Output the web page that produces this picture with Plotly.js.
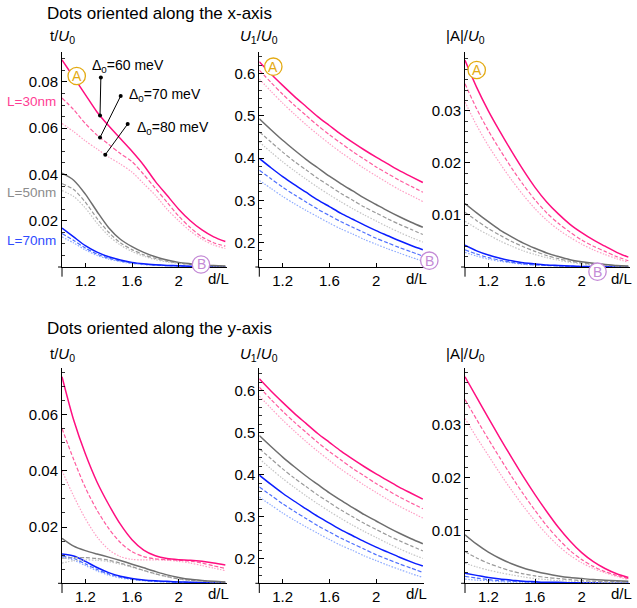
<!DOCTYPE html>
<html><head><meta charset="utf-8">
<script src="https://cdn.plot.ly/plotly-3.0.1.min.js"></script>
<style>html,body{margin:0;padding:0;background:#fff}#chart{width:637px;height:608px}</style>
</head><body><div id="chart"></div>
<script>
// d/L sample points
const dL = [1.0,1.1,1.2,1.3,1.4,1.5,1.6,1.7,1.8,1.9,2.0,2.1,2.2,2.3,2.4];

// ---- Dots along x-axis: t/U0 ----
const tX_30_60 = [0.0895,0.082,0.0745,0.067,0.061,0.0555,0.050,0.044,0.037,0.031,0.025,0.020,0.016,0.013,0.011];
const tX_30_70 = [0.073,0.068,0.062,0.057,0.053,0.049,0.0455,0.040,0.034,0.028,0.022,0.017,0.013,0.0105,0.009];
const tX_30_80 = [0.062,0.0585,0.0545,0.051,0.0475,0.0445,0.041,0.036,0.031,0.025,0.020,0.0155,0.012,0.0095,0.008];
const tX_50_60 = [0.0405,0.0375,0.0315,0.024,0.017,0.012,0.0088,0.0063,0.0044,0.003,0.002,0.0014,0.0009,0.0006,0.0004];
const tX_50_70 = [0.036,0.0335,0.028,0.021,0.015,0.0105,0.0075,0.0053,0.0037,0.0025,0.0017,0.0011,0.0007,0.0005,0.0003];
const tX_50_80 = [0.033,0.0305,0.0255,0.019,0.0135,0.0095,0.0067,0.0047,0.0032,0.0022,0.0015,0.001,0.0006,0.0004,0.0003];
const tX_70_60 = [0.0168,0.013,0.0092,0.0064,0.0044,0.003,0.002,0.0014,0.001,0.0007,0.0005,0.0003,0.0002,0.0001,0.0001];
const tX_70_70 = [0.0145,0.0115,0.0082,0.0056,0.0038,0.0026,0.0017,0.0012,0.0008,0.0006,0.0004,0.0003,0.0002,0.0001,0.0001];
const tX_70_80 = [0.013,0.0104,0.0074,0.005,0.0034,0.0023,0.0015,0.001,0.0007,0.0005,0.0003,0.0002,0.0001,0.0001,0.0001];

// ---- U1/U0 (both orientations) ----
const u1_30_60 = [0.628,0.599,0.572,0.546,0.522,0.498,0.477,0.456,0.437,0.419,0.402,0.386,0.370,0.356,0.342];
const u1_30_70 = [0.608,0.579,0.551,0.525,0.501,0.477,0.455,0.435,0.415,0.397,0.379,0.363,0.347,0.333,0.319];
const u1_30_80 = [0.587,0.558,0.530,0.504,0.479,0.456,0.434,0.413,0.394,0.375,0.358,0.341,0.325,0.311,0.297];
const u1_50_60 = [0.493,0.467,0.442,0.419,0.397,0.377,0.357,0.339,0.322,0.305,0.290,0.275,0.261,0.248,0.236];
const u1_50_70 = [0.462,0.438,0.414,0.392,0.372,0.352,0.334,0.316,0.300,0.284,0.270,0.256,0.243,0.231,0.219];
const u1_50_80 = [0.438,0.414,0.391,0.370,0.350,0.331,0.313,0.296,0.280,0.265,0.251,0.237,0.224,0.212,0.201];
const u1_70_60 = [0.399,0.377,0.356,0.337,0.319,0.301,0.285,0.269,0.255,0.241,0.228,0.216,0.204,0.193,0.183];
const u1_70_70 = [0.371,0.351,0.331,0.313,0.296,0.279,0.264,0.249,0.236,0.223,0.210,0.199,0.188,0.178,0.168];
const u1_70_80 = [0.347,0.328,0.309,0.292,0.276,0.261,0.246,0.232,0.220,0.207,0.196,0.185,0.175,0.165,0.156];

// ---- Dots along x-axis: |A|/U0 ----
const aX_30_60 = [0.0397,0.0345,0.0300,0.0260,0.0222,0.0186,0.0153,0.0125,0.0102,0.0082,0.0066,0.0052,0.0040,0.0028,0.0019];
const aX_30_70 = [0.0352,0.0304,0.0262,0.0225,0.0190,0.0158,0.0129,0.0104,0.0084,0.0067,0.0052,0.0040,0.0030,0.0020,0.0012];
const aX_30_80 = [0.0317,0.0272,0.0233,0.0199,0.0167,0.0138,0.0112,0.0090,0.0072,0.0057,0.0044,0.0033,0.0024,0.0016,0.0009];
const aX_50_60 = [0.0122,0.0104,0.0087,0.0071,0.0058,0.0046,0.0036,0.0027,0.0020,0.0014,0.0010,0.0007,0.0005,0.0003,0.0002];
const aX_50_70 = [0.0105,0.0089,0.0074,0.0061,0.0049,0.0039,0.0030,0.0022,0.0016,0.0011,0.0008,0.0005,0.0004,0.0002,0.0001];
const aX_50_80 = [0.0088,0.0074,0.0062,0.0050,0.0040,0.0031,0.0024,0.0018,0.0013,0.0009,0.0006,0.0004,0.0003,0.0002,0.0001];
const aX_70_60 = [0.0042,0.0031,0.0023,0.0017,0.0012,0.0008,0.0006,0.0004,0.0003,0.0002,0.0001,0.0001,0.0001,0.0,0.0];
const aX_70_70 = [0.0033,0.0025,0.0018,0.0013,0.0009,0.0006,0.0004,0.0003,0.0002,0.0001,0.0001,0.0001,0.0,0.0,0.0];
const aX_70_80 = [0.0028,0.0021,0.0015,0.0011,0.0008,0.0005,0.0004,0.0003,0.0002,0.0001,0.0001,0.0,0.0,0.0,0.0];

// ---- Dots along y-axis: t/U0 ----
const tY_30_60 = [0.0734,0.058,0.046,0.036,0.028,0.021,0.0155,0.0118,0.0098,0.0088,0.0084,0.0082,0.0078,0.0072,0.0065];
const tY_30_70 = [0.055,0.044,0.034,0.026,0.0195,0.0145,0.0112,0.0095,0.0087,0.0084,0.0082,0.0079,0.0072,0.0062,0.0053];
const tY_30_80 = [0.040,0.031,0.023,0.0165,0.012,0.0095,0.0085,0.0083,0.0083,0.0082,0.0078,0.0072,0.0063,0.0054,0.0045];
const tY_50_60 = [0.016,0.0132,0.0116,0.0104,0.0093,0.0081,0.0068,0.0055,0.0042,0.003,0.0021,0.0014,0.001,0.0007,0.0005];
const tY_50_70 = [0.0089,0.0091,0.0091,0.0088,0.0082,0.0072,0.0059,0.0046,0.0034,0.0024,0.0016,0.0011,0.0008,0.0005,0.0004];
const tY_50_80 = [0.0072,0.0080,0.0083,0.0082,0.0077,0.0068,0.0057,0.0045,0.0033,0.0023,0.0015,0.001,0.0007,0.0005,0.0003];
const tY_70_60 = [0.0104,0.0097,0.0078,0.0056,0.0038,0.0025,0.0017,0.0012,0.0009,0.0007,0.0005,0.0004,0.0003,0.0002,0.0002];
const tY_70_70 = [0.0097,0.0088,0.0069,0.0049,0.0033,0.0022,0.0015,0.001,0.0007,0.0005,0.0004,0.0003,0.0002,0.0002,0.0001];
const tY_70_80 = [0.0093,0.0082,0.0063,0.0044,0.0029,0.0019,0.0013,0.0009,0.0006,0.0005,0.0003,0.0002,0.0002,0.0001,0.0001];

// ---- Dots along y-axis: |A|/U0 ----
const aY_30_60 = [0.0391,0.0352,0.0313,0.0275,0.0238,0.0202,0.0168,0.0136,0.0106,0.008,0.0058,0.0041,0.0028,0.0018,0.0011];
const aY_30_70 = [0.0348,0.031,0.0273,0.0237,0.0202,0.0169,0.0138,0.0109,0.0084,0.0062,0.0045,0.0032,0.0022,0.0015,0.0009];
const aY_30_80 = [0.0312,0.0276,0.0242,0.0208,0.0176,0.0146,0.0118,0.0093,0.0071,0.0053,0.0039,0.0028,0.002,0.0013,0.0007];
const aY_50_60 = [0.0092,0.0074,0.0059,0.0047,0.0037,0.0029,0.0023,0.0018,0.0014,0.0011,0.0009,0.0007,0.0006,0.0005,0.0004];
const aY_50_70 = [0.006,0.0048,0.0038,0.003,0.0023,0.0018,0.0014,0.0011,0.0009,0.0007,0.0005,0.0004,0.0003,0.0003,0.0002];
const aY_50_80 = [0.0038,0.0031,0.0025,0.002,0.0016,0.0012,0.0009,0.0007,0.0005,0.0004,0.0003,0.0002,0.0002,0.0001,0.0001];
const aY_70_60 = [0.0019,0.0015,0.0011,0.0008,0.0006,0.0004,0.0003,0.0002,0.0002,0.0001,0.0001,0.0001,0.0,0.0,0.0];
const aY_70_70 = [0.0013,0.001,0.0007,0.0005,0.0004,0.0003,0.0002,0.0001,0.0001,0.0001,0.0,0.0,0.0,0.0,0.0];
const aY_70_80 = [0.0008,0.0006,0.0005,0.0003,0.0002,0.0002,0.0001,0.0001,0.0,0.0,0.0,0.0,0.0,0.0,0.0];

// tick labels
const xTickVals = [1.2,1.6,2];
const xTickText = ['1.2','1.6','2'];
const tXTickVals = [0.02,0.04,0.06,0.08];
const tXTickText = ['0.02','0.04','0.06','0.08'];
const u1TickVals = [0.2,0.3,0.4,0.5,0.6];
const u1TickText = ['0.2','0.3','0.4','0.5','0.6'];
const aTickVals = [0.01,0.02,0.03];
const aTickText = ['0.01','0.02','0.03'];
const tYTickVals = [0.02,0.04,0.06];
const tYTickText = ['0.02','0.04','0.06'];

// labels
const sizeLabels = ['L=30nm','L=50nm','L=70nm'];
const deltaLabels = ['Δ<sub>0</sub>=60 meV','Δ<sub>0</sub>=70 meV','Δ<sub>0</sub>=80 meV'];

const FONT = 'Liberation Sans, Arial, Helvetica, sans-serif';
const colors = {
  30: ['#ff0f80','#ff5c9f','#ff9ec4'],
  50: ['#6e6e6e','#9a9a9a','#c4c4c4'],
  70: ['#0a1eff','#4d6fff','#8eabff']
};
const dashes = ['solid','4px,2px','1.5px,1.5px'];
const widths = [1.5,1.2,1.2];

const panels = [
  {ax:'', sets:{30:[tX_30_60,tX_30_70,tX_30_80],50:[tX_50_60,tX_50_70,tX_50_80],70:[tX_70_60,tX_70_70,tX_70_80]}},
  {ax:'2', sets:{30:[u1_30_60,u1_30_70,u1_30_80],50:[u1_50_60,u1_50_70,u1_50_80],70:[u1_70_60,u1_70_70,u1_70_80]}},
  {ax:'3', sets:{30:[aX_30_60,aX_30_70,aX_30_80],50:[aX_50_60,aX_50_70,aX_50_80],70:[aX_70_60,aX_70_70,aX_70_80]}},
  {ax:'4', sets:{30:[tY_30_60,tY_30_70,tY_30_80],50:[tY_50_60,tY_50_70,tY_50_80],70:[tY_70_60,tY_70_70,tY_70_80]}},
  {ax:'5', sets:{30:[u1_30_60,u1_30_70,u1_30_80],50:[u1_50_60,u1_50_70,u1_50_80],70:[u1_70_60,u1_70_70,u1_70_80]}},
  {ax:'6', sets:{30:[aY_30_60,aY_30_70,aY_30_80],50:[aY_50_60,aY_50_70,aY_50_80],70:[aY_70_60,aY_70_70,aY_70_80]}}
];

const traces = [];
panels.forEach(p => {
  [70,50,30].forEach(L => {
    [2,1,0].forEach(k => {
      traces.push({
        x: dL, y: p.sets[L][k], type:'scatter', mode:'lines',
        xaxis:'x'+p.ax, yaxis:'y'+p.ax, hoverinfo:'skip',
        line:{color:colors[L][k], width:widths[k], dash:dashes[k], shape:'spline', smoothing:0.8}
      });
    });
  });
});

function interp(xs, ys, x0){
  for (let i=0;i<xs.length-1;i++){
    if (x0>=xs[i] && x0<=xs[i+1]){
      const f=(x0-xs[i])/(xs[i+1]-xs[i]);
      return ys[i]+f*(ys[i+1]-ys[i]);
    }
  }
  return ys[ys.length-1];
}

// pointer lines for the Δ0 annotations (panel 1)
const pointers = [
  {curve:tX_30_60, xd:1.326, xt:1.333, yt:0.0819, tx:1.24, ty:0.0868},
  {curve:tX_30_70, xd:1.326, xt:1.503, yt:0.0739, tx:1.554, ty:0.0745},
  {curve:tX_30_80, xd:1.371, xt:1.563, yt:0.0618, tx:1.626, ty:0.0601}
];
const annotations = [];
pointers.forEach((pt,i) => {
  traces.push({
    x:[pt.xd, pt.xt], y:[interp(dL, pt.curve, pt.xd), pt.yt], type:'scatter', mode:'lines+markers',
    xaxis:'x', yaxis:'y', hoverinfo:'skip',
    line:{color:'#000', width:1}, marker:{color:'#000', size:4}
  });
  annotations.push({xref:'x', yref:'y', x:pt.tx, y:pt.ty, xanchor:'left', yanchor:'middle',
    text:deltaLabels[i], showarrow:false, font:{family:FONT, size:14, color:'#000'}});
});

const W=637, H=608;
const colDom = [[62/W,226.5/W],[259.3/W,424/W],[465/W,629.5/W]];
const topDom = [1-267/H, 1-52/H];
const botDom = [1-583.3/H, 1-368.3/H];

function xaxis(dom, anchor){
  return {domain:dom, anchor:anchor, range:[1,2.41], showline:true, linecolor:'#000', linewidth:1,
    ticks:'inside', ticklen:4, tickcolor:'#000', tickwidth:1, tickmode:'array', tickvals:xTickVals, ticktext:xTickText,
    showgrid:false, zeroline:false, tickfont:{family:FONT, size:15, color:'#000'}, fixedrange:true};
}
function yaxis(dom, anchor, range, vals, text, minorD){
  return {domain:dom, anchor:anchor, range:range, showline:true, linecolor:'#000', linewidth:1,
    ticks:'inside', ticklen:5, tickcolor:'#000', tickwidth:1, tickmode:'array', tickvals:vals, ticktext:text,
    minor:{ticks:'inside', ticklen:2.5, tickcolor:'#000', tickwidth:0.8, dtick:minorD, tick0:0, showgrid:false},
    showgrid:false, zeroline:false, tickfont:{family:FONT, size:15, color:'#000'}, fixedrange:true};
}

const layout = {
  width:W, height:H, margin:{l:0,r:0,t:0,b:0}, paper_bgcolor:'#fff', plot_bgcolor:'rgba(0,0,0,0)',
  showlegend:false, font:{family:FONT, color:'#000'},
  xaxis: xaxis(colDom[0],'y'), yaxis: yaxis(topDom,'x',[0,0.0929],tXTickVals,tXTickText,0.005),
  xaxis2: xaxis(colDom[1],'y2'), yaxis2: yaxis(topDom,'x2',[0.142,0.651],u1TickVals,u1TickText,0.02),
  xaxis3: xaxis(colDom[2],'y3'), yaxis3: yaxis(topDom,'x3',[0,0.0413],aTickVals,aTickText,0.002),
  xaxis4: xaxis(colDom[0],'y4'), yaxis4: yaxis(botDom,'x4',[0,0.0764],tYTickVals,tYTickText,0.005),
  xaxis5: xaxis(colDom[1],'y5'), yaxis5: yaxis(botDom,'x5',[0.142,0.653],u1TickVals,u1TickText,0.02),
  xaxis6: xaxis(colDom[2],'y6'), yaxis6: yaxis(botDom,'x6',[0,0.0407],aTickVals,aTickText,0.002),
  shapes:[], annotations:annotations
};

// axis extensions (y-axis below x-axis, x-axis left of y-axis)
['','2','3','4','5','6'].forEach(a => {
  layout.shapes.push({type:'line', xref:'x'+a+' domain', yref:'y'+a+' domain', x0:0, x1:0, y0:-0.045, y1:0, line:{color:'#000', width:1}});
  layout.shapes.push({type:'line', xref:'x'+a+' domain', yref:'y'+a+' domain', x0:-0.024, x1:0, y0:0, y1:0, line:{color:'#000', width:1}});
});

// titles
layout.annotations.push({xref:'paper', yref:'paper', x:45/W, y:1-14/H, xanchor:'left', yanchor:'middle',
  text:'Dots oriented along the x-axis', showarrow:false, font:{family:FONT, size:17, color:'#000'}});
layout.annotations.push({xref:'paper', yref:'paper', x:45/W, y:1-328/H, xanchor:'left', yanchor:'middle',
  text:'Dots oriented along the y-axis', showarrow:false, font:{family:FONT, size:17, color:'#000'}});

// y-axis titles and d/L labels
const yTitles = ['t/<i>U</i><sub>0</sub>','<i>U</i><sub>1</sub>/<i>U</i><sub>0</sub>','|A|/<i>U</i><sub>0</sub>'];
['','2','3','4','5','6'].forEach((a,i) => {
  const top = i<3;
  layout.annotations.push({xref:'x'+a+' domain', yref:'paper', x:0, y: top ? 1-37/H : 1-354/H,
    xanchor:'center', yanchor:'middle', text:yTitles[i%3], showarrow:false, font:{family:FONT, size:15, color:'#000'}});
  layout.annotations.push({xref:'x'+a+' domain', yref:'paper', x:1.03, y: top ? 1-278/H : 1-593/H,
    xanchor:'right', yanchor:'middle', text:'d/L', showarrow:false, font:{family:FONT, size:15, color:'#000'}});
});

// L labels
const labelColors = ['#ff3d94','#8c8c8c','#2f4cff'];
const labelY = [101.7, 192.7, 240];
sizeLabels.forEach((t,i) => {
  layout.annotations.push({xref:'paper', yref:'paper', x:58/W, y:1-labelY[i]/H, xanchor:'right', yanchor:'middle',
    text:t, showarrow:false, font:{family:FONT, size:13.5, color:labelColors[i]}});
});

// A / B circle markers
const circ = [
  {t:'A', cx:76.7, cy:76, c:'#e3aa12'}, {t:'B', cx:201, cy:264.5, c:'#c48ad6'},
  {t:'A', cx:273.3, cy:66.7, c:'#e3aa12'}, {t:'B', cx:429.3, cy:260.7, c:'#c48ad6'},
  {t:'A', cx:476.7, cy:70, c:'#e3aa12'}, {t:'B', cx:597.5, cy:271.7, c:'#c48ad6'}
];
const R = 8.7;
circ.forEach(c => {
  layout.shapes.push({type:'circle', xref:'paper', yref:'paper', layer:'above',
    x0:(c.cx-R)/W, x1:(c.cx+R)/W, y0:1-(c.cy+R)/H, y1:1-(c.cy-R)/H,
    fillcolor:'#fff', line:{color:c.c, width:1.3}});
  layout.annotations.push({xref:'paper', yref:'paper', x:c.cx/W, y:1-c.cy/H, xanchor:'center', yanchor:'middle',
    text:c.t, showarrow:false, font:{family:FONT, size:14, color:c.c}});
});

Plotly.newPlot('chart', traces, layout, {staticPlot:true, displayModeBar:false});
</script>
</body></html>
